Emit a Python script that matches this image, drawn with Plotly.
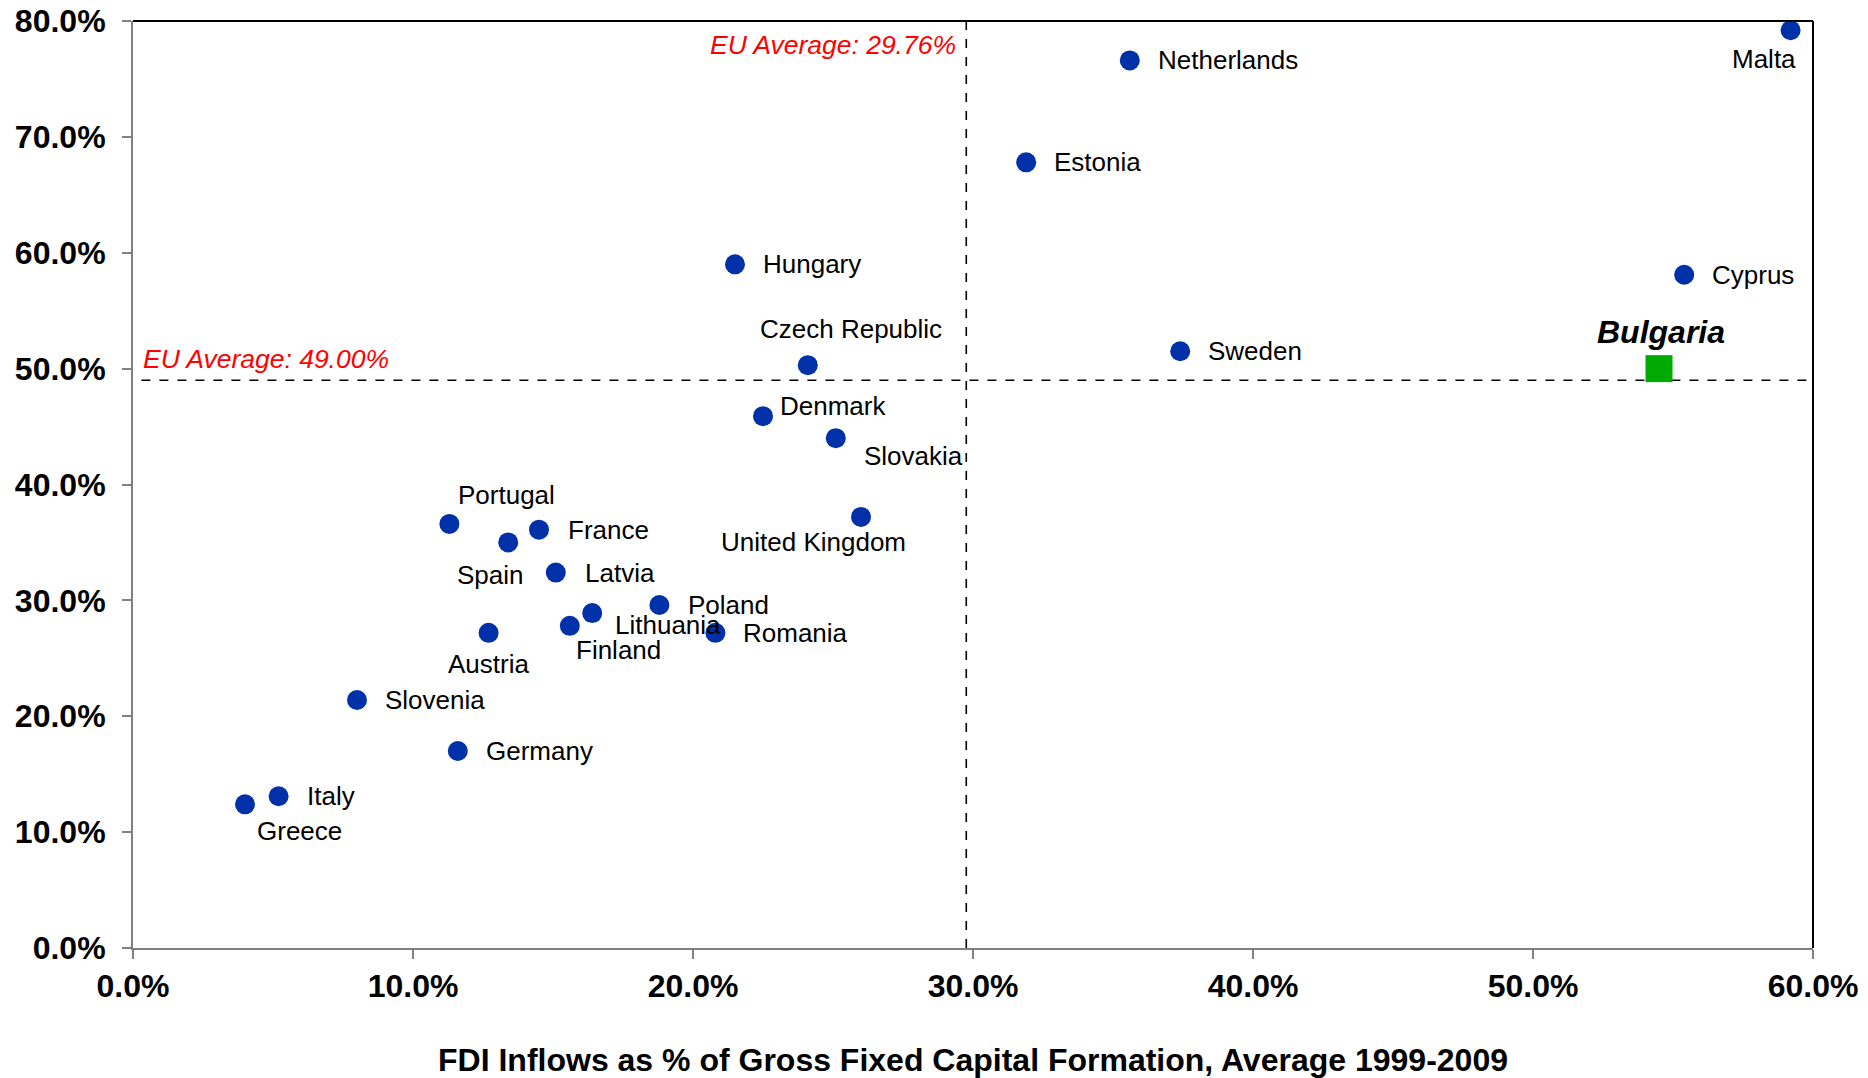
import plotly.graph_objects as go

# ---------------- data ----------------
countries = ["Malta", "Netherlands", "Estonia", "Hungary", "Cyprus", "Czech Republic",
             "Sweden", "Denmark", "Slovakia", "United Kingdom", "Portugal", "France",
             "Spain", "Latvia", "Poland", "Lithuania", "Finland", "Romania", "Austria",
             "Slovenia", "Germany", "Italy", "Greece"]
fdi_pct_gfcf = [59.2, 35.6, 31.9, 21.5, 55.4, 24.1,
                37.4, 22.5, 25.1, 26.0, 11.3, 14.5,
                13.4, 15.1, 18.8, 16.4, 15.6, 20.8, 12.7,
                8.0, 11.6, 5.2, 4.0]
y_pct = [79.2, 76.6, 67.8, 59.0, 58.1, 50.3,
         51.5, 45.9, 44.0, 37.2, 36.6, 36.1,
         35.0, 32.4, 29.6, 28.9, 27.8, 27.2, 27.2,
         21.4, 17.0, 13.1, 12.4]

bulgaria_name = "Bulgaria"
bulgaria_x = [54.5]
bulgaria_y = [50.0]

eu_avg_x = 29.76
eu_avg_y = 49.00

x_ticks = [0, 10, 20, 30, 40, 50, 60]
y_ticks = [0, 10, 20, 30, 40, 50, 60, 70, 80]
x_title = "FDI Inflows as % of Gross Fixed Capital Formation, Average 1999-2009"

# label placement styles: (xanchor, xshift px, yshift px)
label_style = {
    "Malta": ("center", -27, -29),
    "Netherlands": ("left", 26, 0),
    "Estonia": ("left", 26, 0),
    "Hungary": ("left", 26, 0),
    "Cyprus": ("left", 26, 0),
    "Czech Republic": ("center", 43, 36),
    "Sweden": ("left", 26, 0),
    "Denmark": ("left", 15, 10),
    "Slovakia": ("left", 26, -18),
    "United Kingdom": ("center", -48, -25),
    "Portugal": ("center", 57, 29),
    "France": ("left", 27, 0),
    "Spain": ("center", -18, -33),
    "Latvia": ("left", 27, 0),
    "Poland": ("left", 27, 0),
    "Lithuania": ("left", 21, -12),
    "Finland": ("left", 4, -24),
    "Romania": ("left", 26, 0),
    "Austria": ("center", 0, -31),
    "Slovenia": ("left", 26, 0),
    "Germany": ("left", 26, 0),
    "Italy": ("left", 26, 0),
    "Greece": ("center", 54, -27),
}

FONT = "Liberation Sans, Arial, sans-serif"
BLUE = "#0031A8"
GREEN = "#00AA00"

fig = go.Figure()

fig.add_trace(go.Scatter(
    x=fdi_pct_gfcf, y=y_pct, mode="markers",
    marker=dict(symbol="circle", size=20, color=BLUE, line=dict(width=0)),
    hovertext=countries, showlegend=False, cliponaxis=False))

fig.add_trace(go.Scatter(
    x=bulgaria_x, y=bulgaria_y, mode="markers",
    marker=dict(symbol="square", size=27, color=GREEN, line=dict(width=0)),
    hovertext=[bulgaria_name], showlegend=False))

# EU average dashed lines
fig.add_shape(type="line", xref="x", yref="y", x0=eu_avg_x, x1=eu_avg_x, y0=0, y1=80,
              line=dict(color="black", width=1.6, dash="dash"), layer="below")
fig.add_shape(type="line", xref="x", yref="y", x0=0.3, x1=60, y0=eu_avg_y, y1=eu_avg_y,
              line=dict(color="black", width=1.6, dash="dash"), layer="below")

annotations = []
for name, xv, yv in zip(countries, fdi_pct_gfcf, y_pct):
    anchor, dx, dy = label_style[name]
    annotations.append(dict(x=xv, y=yv, xref="x", yref="y", text=name, showarrow=False,
                            xanchor=anchor, yanchor="middle", xshift=dx, yshift=dy,
                            font=dict(family=FONT, size=26, color="black")))

annotations.append(dict(x=bulgaria_x[0], y=bulgaria_y[0], xref="x", yref="y",
                        text="<b><i>" + bulgaria_name + "</i></b>", showarrow=False,
                        xanchor="center", yanchor="middle", xshift=2, yshift=37,
                        font=dict(family=FONT, size=32, color="black")))

annotations.append(dict(x=eu_avg_x, y=80, xref="x", yref="y",
                        text="<i>EU Average: %.2f%%</i>" % eu_avg_x, showarrow=False,
                        xanchor="right", yanchor="middle", xshift=-8, yshift=-24,
                        font=dict(family=FONT, size=26.5, color="#FF0000")))
annotations.append(dict(x=0, y=eu_avg_y, xref="x", yref="y",
                        text="<i>EU Average: %.2f%%</i>" % eu_avg_y, showarrow=False,
                        xanchor="left", yanchor="middle", xshift=8, yshift=21,
                        font=dict(family=FONT, size=26.5, color="#FF0000")))

# page body has an 8px default margin, so the figure is sized to fit the window
fig.update_layout(
    width=1860, height=1070,
    margin=dict(l=125, r=55, t=13, b=130),
    paper_bgcolor="white", plot_bgcolor="white",
    annotations=annotations,
    font=dict(family=FONT),
)

fig.update_xaxes(
    range=[0, 60], tickvals=x_ticks, ticktext=["%.1f%%" % v for v in x_ticks],
    showgrid=False, zeroline=False, automargin=False, ticklabeloverflow="allow",
    showline=True, linecolor="#808080", linewidth=2, mirror=False,
    ticks="outside", ticklen=9, tickcolor="#808080", tickwidth=1.5,
    tickfont=dict(family=FONT, size=32, color="black", weight="bold"),
    title=dict(text="<b>" + x_title + "</b>", font=dict(family=FONT, size=32, color="black"),
               standoff=48),
)
fig.update_yaxes(
    range=[0, 80], tickvals=y_ticks, ticktext=["%.1f%%" % v for v in y_ticks],
    showgrid=False, zeroline=False, automargin=False, ticklabeloverflow="allow",
    showline=True, linecolor="#808080", linewidth=2,
    ticks="outside", ticklen=9, tickcolor="#808080", tickwidth=1.5,
    tickfont=dict(family=FONT, size=32, color="black", weight="bold"),
    ticklabelstandoff=10,
)

# black top and right frame lines
fig.add_shape(type="line", xref="paper", yref="paper", x0=0, x1=1, y0=1, y1=1,
              line=dict(color="black", width=2))
fig.add_shape(type="line", xref="paper", yref="paper", x0=1, x1=1, y0=0, y1=1,
              line=dict(color="black", width=2))

fig.write_html("out.html")
